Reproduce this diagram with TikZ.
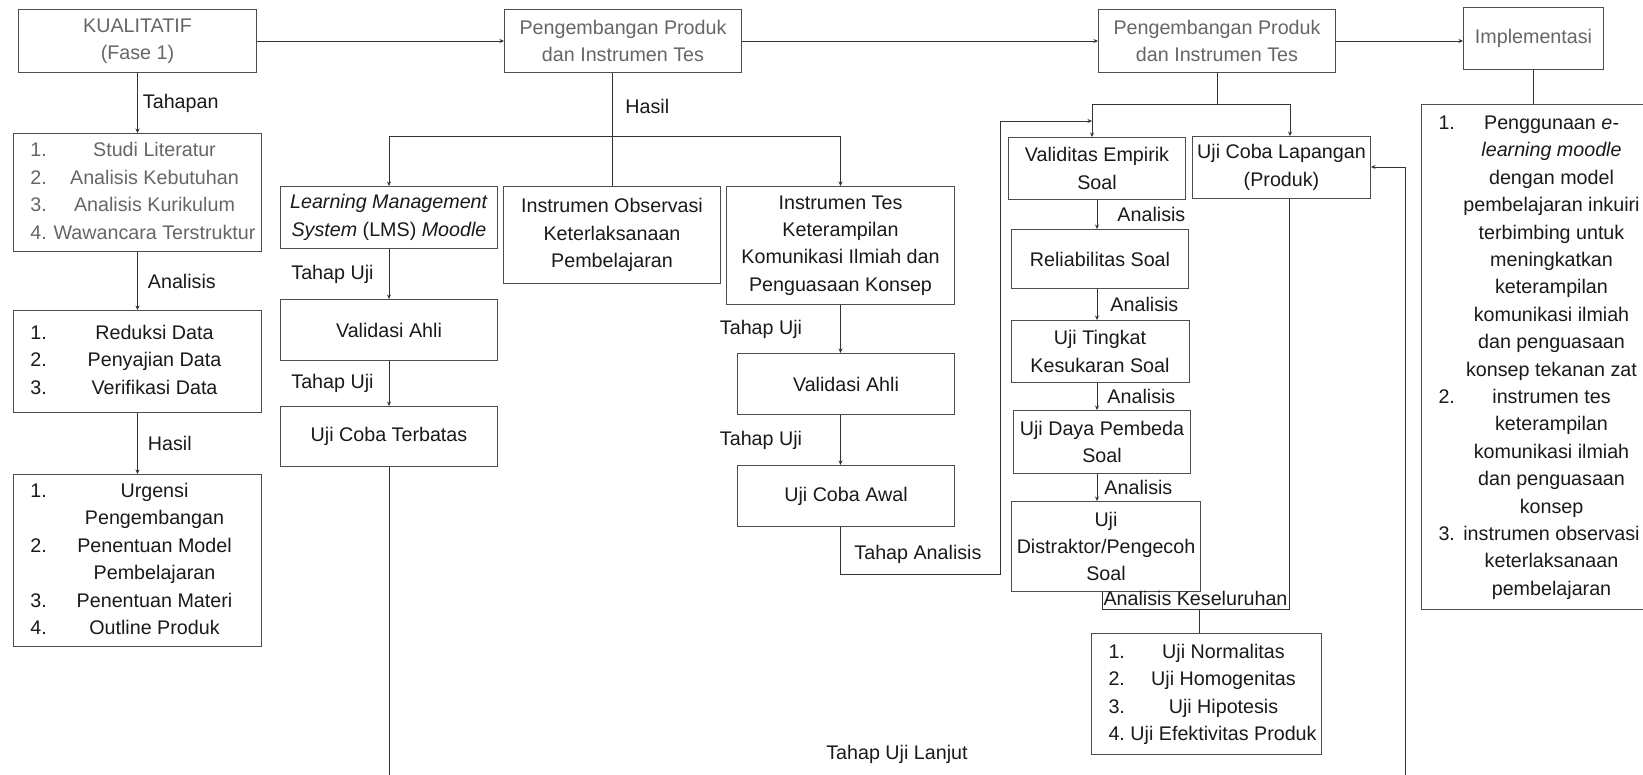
\documentclass[tikz,border=0pt]{standalone}
\usepackage{fontspec}
\setmainfont{Liberation Sans}
\usepackage{array}
\usepackage{tikz}
\usetikzlibrary{positioning,calc,arrows.meta}
\definecolor{abu}{HTML}{666666}
\definecolor{tinta}{HTML}{1A1A1A}
\definecolor{garis}{HTML}{4D4D4D}
\definecolor{tali}{HTML}{333333}
\newcommand{\huruf}{\fontsize{19.7}{27.4}\selectfont}
\newcolumntype{C}[1]{>{\centering\arraybackslash}p{#1}}
\newenvironment{daftar}[2]{\begin{tabular}{@{\hspace{17pt}}p{21pt}@{}C{#1}@{\hspace{#2}}}}{\end{tabular}}

\begin{document}
\begin{tikzpicture}[x=1pt,y=-1pt,
    kotak/.style={draw=garis, line width=1pt, inner sep=0pt, text=tinta, font=\huruf},
    ukuran/.style 2 args={minimum width=#1, minimum height=#2},
    ket/.style={inner sep=0pt, text=tinta, font=\huruf},
    hubung/.style={draw=tali, line width=0.9pt},
    panah/.style={hubung, -{Stealth[length=4.5pt,width=4pt]}}]
    \fill[white] (0,0) rectangle (1643,775);
    \useasboundingbox (0,0) rectangle (1643,775);

    \node[kotak, ukuran={238pt}{63pt}, anchor=north west, align=center, text=abu] (kual) at (18,9) {KUALITATIF\\(Fase 1)};
    \node[kotak, ukuran={237pt}{63pt}, right=247pt of kual, align=center, text=abu] (peng1) {Pengembangan Produk\\dan Instrumen Tes};
    \node[kotak, ukuran={237pt}{63pt}, right=356pt of peng1, align=center, text=abu] (peng2) {Pengembangan Produk\\dan Instrumen Tes};
    \node[kotak, ukuran={140pt}{62pt}, anchor=north west, text=abu] (impl) at (1463,7) {Implementasi};

    \node[kotak, ukuran={248pt}{118pt}, below=60pt of kual, text=abu] (studi) {\begin{daftar}{206pt}{4pt}
        1. & Studi Literatur\\ 2. & Analisis Kebutuhan\\ 3. & Analisis Kurikulum\\ 4. & Wawancara Terstruktur\end{daftar}};
    \node[kotak, ukuran={248pt}{102pt}, below=58pt of studi] (reduksi) {\begin{daftar}{206pt}{4pt}
        1. & Reduksi Data\\ 2. & Penyajian Data\\ 3. & Verifikasi Data\end{daftar}};
    \node[kotak, ukuran={248pt}{172pt}, below=61pt of reduksi] (hasil) {\begin{daftar}{206pt}{4pt}
        1. & Urgensi\par Pengembangan\\ 2. & Penentuan Model\par Pembelajaran\\ 3. & Penentuan Materi\\ 4. & Outline Produk\end{daftar}};

    \node[kotak, ukuran={217pt}{62pt}, anchor=north west, align=center] (lms) at (280,186) {\textit{Learning Management}\\\textit{System} (LMS) \textit{Moodle}};
    \node[kotak, ukuran={217pt}{61pt}, below=50pt of lms] (valid1) {Validasi Ahli};
    \node[kotak, ukuran={217pt}{60pt}, below=45pt of valid1] (terbatas) {Uji Coba Terbatas};

    \node[kotak, ukuran={217pt}{97pt}, anchor=north west, align=center] (obs) at (503,186) {Instrumen Observasi\\Keterlaksanaan\\Pembelajaran};
    \node[kotak, ukuran={228pt}{118pt}, anchor=north west, align=center] (instes) at (726,186) {Instrumen Tes\\Keterampilan\\Komunikasi Ilmiah dan\\Penguasaan Konsep};
    \node[kotak, ukuran={217pt}{61pt}, anchor=north west] (valid2) at (737,353) {Validasi Ahli};
    \node[kotak, ukuran={217pt}{61pt}, below=50pt of valid2] (awal) {Uji Coba Awal};

    \node[kotak, ukuran={177pt}{62pt}, anchor=north west, align=center] (validitas) at (1008,137) {Validitas Empirik\\Soal};
    \node[kotak, ukuran={177pt}{59pt}, below=29pt of validitas, xshift=3pt] (reliab) {Reliabilitas Soal};
    \node[kotak, ukuran={178pt}{62pt}, below=31pt of reliab, align=center] (tingkat) {Uji Tingkat\\Kesukaran Soal};
    \node[kotak, ukuran={177pt}{63pt}, below=27pt of tingkat, xshift=2pt, align=center] (daya) {Uji Daya Pembeda\\Soal};
    \node[kotak, ukuran={189pt}{90pt}, below=27pt of daya, xshift=4pt, align=center] (distraktor) {Uji\\Distraktor/Pengecoh\\Soal};
    \node[kotak, ukuran={178pt}{62pt}, anchor=north west, align=center] (lapangan) at (1192,136) {Uji Coba Lapangan\\(Produk)};
    \node[kotak, ukuran={230pt}{121pt}, anchor=north west] (ujilist) at (1091,633) {\begin{daftar}{188pt}{4pt}
        1. & Uji Normalitas\\ 2. & Uji Homogenitas\\ 3. & Uji Hipotesis\\ 4. & Uji Efektivitas Produk\end{daftar}};
    \node[kotak, ukuran={224pt}{505pt}, anchor=north west] (impllist) at (1421,104) {\begin{daftar}{184pt}{2pt}
        1. & Penggunaan \textit{e-}\par \textit{learning moodle}\par dengan model\par pembelajaran inkuiri\par terbimbing untuk\par meningkatkan\par keterampilan\par komunikasi ilmiah\par dan penguasaan\par konsep tekanan zat\\
        2. & instrumen tes\par keterampilan\par komunikasi ilmiah\par dan penguasaan\par konsep\\
        3. & instrumen observasi\par keterlaksanaan\par pembelajaran\end{daftar}};
    \node[ket] (lanjut) at (897,754) {Tahap Uji Lanjut};

    \coordinate (cab1) at (611.5,136);
    \coordinate (cab2kr) at (1092,104);
    \coordinate (cab2kn) at (1290,104);
    \coordinate (cab2) at (peng2.south |- cab2kr);
    \coordinate (ta1) at (840,574);
    \coordinate (ta2) at (1000,574);
    \coordinate (ta3) at (1000,121);
    \coordinate (ta4) at (1092,121);
    \coordinate (kb) at (1102,609);
    \coordinate (kk) at (1289,609);
    \coordinate (kt) at (1199,609);
    \coordinate (bawahA) at (390,775);
    \coordinate (bawahB) at (1405,775);
    \coordinate (naikB) at (1405,167);

    \draw[panah] (kual) -- (peng1);
    \draw[panah] (peng1) -- (peng2);
    \draw[panah] (peng2.east) -- (peng2.east -| impl.west);
    \draw[hubung] (impl) -- (impllist);

    \draw[panah] (kual) -- node[ket, right=5pt] {Tahapan} (studi);
    \draw[panah] (studi) -- node[ket, right=10pt] {Analisis} (reduksi);
    \draw[panah] (reduksi) -- node[ket, right=10pt] {Hasil} (hasil);

    \draw[hubung] (obs.north |- peng1.south) -- node[ket, pos=0.3, right=13pt] {Hasil} (obs.north);
    \draw[panah] (cab1) -| (lms.north);
    \draw[panah] (cab1) -| (instes.north);
    \draw[panah] (lms) -- node[ket, left=15pt] {Tahap Uji} (valid1);
    \draw[panah] (valid1) -- node[ket, left=15pt] {Tahap Uji} (terbatas);
    \draw[hubung] (terbatas.south) -- (terbatas.south |- bawahA);

    \draw[panah] (instes.south) -- node[ket, left=38pt] {Tahap Uji} (instes.south |- valid2.north);
    \draw[panah] (valid2.south -| instes.south) -- node[ket, left=38pt] {Tahap Uji} (awal.north -| instes.south);
    \draw[panah] (awal.south -| ta1) -- node[ket, pos=0.59, right=14pt] {Tahap Analisis} (ta1) -- (ta2) -- (ta3) -- (ta4);

    \draw[hubung] (peng2.south) -- (cab2);
    \draw[panah] (cab2) -- (cab2kr) -- (cab2kr |- validitas.north);
    \draw[panah] (cab2) -- (cab2kn) -- (cab2kn |- lapangan.north);

    \draw[panah] (validitas.south) -- node[ket, right=20pt] {Analisis} (validitas.south |- reliab.north);
    \draw[panah] (reliab.south -| validitas.south) -- node[ket, right=13pt] {Analisis} (tingkat.north -| validitas.south);
    \draw[panah] (tingkat.south -| validitas.south) -- node[ket, right=10pt] {Analisis} (daya.north -| validitas.south);
    \draw[panah] (daya.south -| validitas.south) -- node[ket, right=7pt] {Analisis} (distraktor.north -| validitas.south);

    \draw[hubung] (distraktor.south -| kb) -- (kb) -- node[ket, above=3pt] {Analisis Keseluruhan} (kk) -- (lapangan.south -| kk);
    \draw[hubung] (kt) -- (kt |- ujilist.north);
    \draw[panah] (bawahB) -- (naikB) -- (naikB -| lapangan.east);
\end{tikzpicture}
\end{document}
